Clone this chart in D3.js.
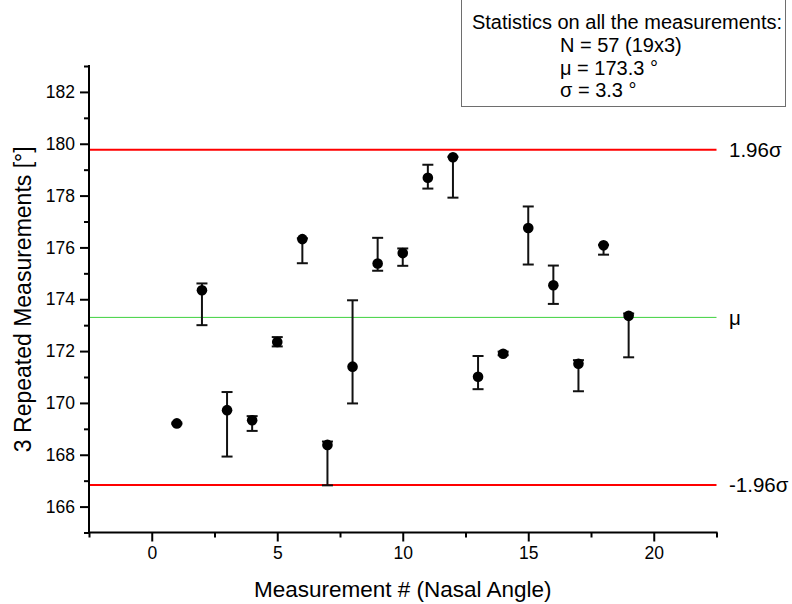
<!DOCTYPE html>
<html>
<head>
<meta charset="utf-8">
<script src="https://cdn.jsdelivr.net/npm/d3@7"></script>
<style>
  body { margin: 0; background: #fff; }
  svg { display: block; font-family: "Liberation Sans", Arial, sans-serif; }
</style>
</head>
<body>
<svg id="chart" width="792" height="604"></svg>
<script>
// measurement index, mean of the 3 repeats, and min / max of the repeats
const measurements = d3.range(1, 20);
const means = [169.21, 174.35, 169.72, 169.33, 172.35, 176.32, 168.38, 171.40, 175.38, 175.78,
               178.69, 179.48, 171.01, 171.90, 176.75, 174.54, 171.51, 176.08, 173.36];
const highs = [169.24, 174.61, 170.42, 169.49, 172.54, 176.35, 168.51, 173.96, 176.37, 175.96,
               179.19, 179.50, 171.81, 171.98, 177.58, 175.30, 171.65, 176.10, 173.45];
const lows  = [169.18, 173.00, 167.93, 168.92, 172.18, 175.39, 166.82, 169.98, 175.10, 175.29,
               178.27, 177.92, 170.53, 171.84, 175.34, 173.82, 170.45, 175.72, 171.76];

const mu = 173.3;
const sigma = 3.3;
const statLines = ["N = 57 (19x3)", "\u03bc = 173.3 \u00b0", "\u03c3 = 3.3 \u00b0"];

const xTicks = [0, 5, 10, 15, 20];
const yTicks = [166, 168, 170, 172, 174, 176, 178, 180, 182];

const svg = d3.select("#chart");
const plot = { left: 89, right: 716.5, top: 66, bottom: 532.5 };

const x = d3.scaleLinear().domain([-2.5, 22.5]).range([plot.left, plot.right]);
const y = d3.scaleLinear().domain([165, 183]).range([plot.bottom, plot.top]);

const data = measurements.map((m, i) => ({ m: m, v: means[i], hi: highs[i], lo: lows[i] }));

// reference lines
const refs = [
    { v: mu + 1.96 * sigma, color: "#ff0000", w: 2, label: "1.96\u03c3" },
    { v: mu, color: "#3fd23f", w: 1, label: "\u03bc" },
    { v: mu - 1.96 * sigma, color: "#ff0000", w: 2, label: "-1.96\u03c3" }
];

svg.selectAll(".ref")
    .data(refs)
    .enter().append("line")
    .attr("class", "ref")
    .attr("x1", plot.left)
    .attr("x2", plot.right)
    .attr("y1", d => y(d.v))
    .attr("y2", d => y(d.v))
    .style("stroke", d => d.color)
    .style("stroke-width", d => d.w);

svg.selectAll(".ref-label")
    .data(refs)
    .enter().append("text")
    .attr("class", "ref-label")
    .attr("x", 729)
    .attr("y", d => y(d.v))
    .attr("dy", "0.35em")
    .style("font-size", "20.5px")
    .text(d => d.label);

// axes
const xAxis = d3.axisBottom(x).tickValues(xTicks).tickSize(9).tickPadding(5).tickFormat(d3.format("d"));
const xMinor = d3.axisBottom(x).tickValues([-2.5, 2.5, 7.5, 12.5, 17.5, 22.5]).tickSize(5).tickFormat("");
const yAxis = d3.axisLeft(y).tickValues(yTicks).tickSize(9).tickPadding(5).tickFormat(d3.format("d"));
const yMinor = d3.axisLeft(y).tickValues(d3.range(165, 184, 2)).tickSize(5).tickFormat("");

function styleAxis(g) {
    g.select(".domain").remove();
    g.selectAll("line").style("stroke", "#000").style("stroke-width", 2);
    g.selectAll("text").style("font-size", "17.5px").style("fill", "#000")
        .style("font-family", "Liberation Sans, Arial, sans-serif");
}

svg.append("g").attr("transform", `translate(0,${plot.bottom})`).call(xMinor).call(styleAxis);
svg.append("g").attr("transform", `translate(0,${plot.bottom})`).call(xAxis).call(styleAxis);
svg.append("g").attr("transform", `translate(${plot.left},0)`).call(yMinor).call(styleAxis);
svg.append("g").attr("transform", `translate(${plot.left},0)`).call(yAxis).call(styleAxis);

svg.append("line")
    .attr("x1", plot.left - 1).attr("x2", plot.right + 1)
    .attr("y1", plot.bottom).attr("y2", plot.bottom)
    .style("stroke", "#000").style("stroke-width", 2);
svg.append("line")
    .attr("x1", plot.left).attr("x2", plot.left)
    .attr("y1", plot.top - 1).attr("y2", plot.bottom + 1)
    .style("stroke", "#000").style("stroke-width", 2);

// axis titles
svg.append("text")
    .attr("x", (plot.left + plot.right) / 2)
    .attr("y", 597)
    .attr("text-anchor", "middle")
    .style("font-size", "22.5px")
    .text("Measurement # (Nasal Angle)");

svg.append("text")
    .attr("transform", `translate(31,${(plot.top + plot.bottom) / 2}) rotate(-90)`)
    .attr("text-anchor", "middle")
    .style("font-size", "23px")
    .text("3 Repeated Measurements [\u00b0]");

// error bars
const bars = svg.selectAll(".err")
    .data(data)
    .enter().append("g")
    .attr("class", "err");

bars.append("line")
    .attr("x1", d => x(d.m)).attr("x2", d => x(d.m))
    .attr("y1", d => y(d.hi)).attr("y2", d => y(d.lo))
    .style("stroke", "#111").style("stroke-width", 2);

bars.append("line")
    .attr("x1", d => x(d.m) - 5.5).attr("x2", d => x(d.m) + 5.5)
    .attr("y1", d => y(d.hi)).attr("y2", d => y(d.hi))
    .style("stroke", "#111").style("stroke-width", 2);

bars.append("line")
    .attr("x1", d => x(d.m) - 5.5).attr("x2", d => x(d.m) + 5.5)
    .attr("y1", d => y(d.lo)).attr("y2", d => y(d.lo))
    .style("stroke", "#111").style("stroke-width", 2);

// mean points
svg.selectAll(".dot")
    .data(data)
    .enter().append("circle")
    .attr("class", "dot")
    .attr("cx", d => x(d.m))
    .attr("cy", d => y(d.v))
    .attr("r", 5.3)
    .style("fill", "#000");

// statistics box
const box = svg.append("g");
box.append("rect")
    .attr("x", 461.5).attr("y", -1)
    .attr("width", 324).attr("height", 107.5)
    .style("fill", "#fff")
    .style("stroke", "#6e6e6e")
    .style("stroke-width", 1);

box.append("text")
    .attr("x", 627)
    .attr("y", 29)
    .attr("text-anchor", "middle")
    .style("font-size", "20px")
    .text("Statistics on all the measurements:");

box.selectAll(".stat")
    .data(statLines)
    .enter().append("text")
    .attr("class", "stat")
    .attr("x", 560)
    .attr("y", (d, i) => 52 + i * 22.7)
    .style("font-size", "20px")
    .text(d => d);
</script>
</body>
</html>
